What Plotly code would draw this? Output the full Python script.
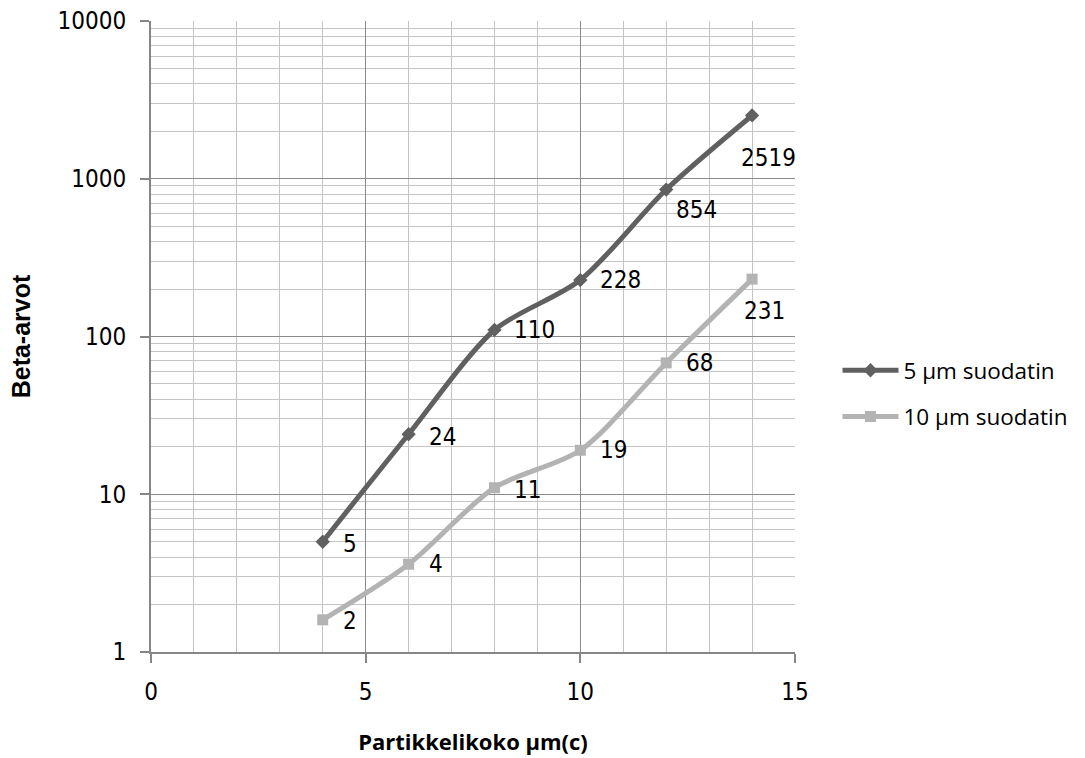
import math
import plotly.graph_objects as go

# Particle size (µm(c)) at which beta ratios were measured
particle_size = [4, 6, 8, 10, 12, 14]

# Beta ratios for the two filters
beta_5um = [5, 24, 110, 228, 854, 2519]
beta_10um = [1.6, 3.6, 11, 19, 68, 231]

series_names = ["5 µm suodatin", "10 µm suodatin"]

y_tick_vals = [1, 10, 100, 1000, 10000]
y_tick_text = ["1", "10", "100", "1000", "10000"]
x_tick_vals = [0, 5, 10, 15]

# Label offsets (px) for each point: (xshift, yshift)
offsets_5um = [(18, -2), (18, -3), (18, 0), (18, 0), (8, -20), (-13, -43)]
offsets_10um = [(18, -1), (18, 0), (18, -2), (18, 0), (18, 0), (-10, -32)]

DARK = "#606060"
LIGHT = "#b3b3b3"
LABEL_FONT = dict(family="DejaVu Sans Condensed, Roboto, sans-serif",
                  size=24, color="#000000")

fig = go.Figure()

fig.add_trace(go.Scatter(
    x=particle_size, y=beta_5um, name=series_names[0],
    mode="lines+markers", line=dict(color=DARK, width=5, shape="spline", smoothing=0.8),
    marker=dict(symbol="diamond", size=11, color=DARK),
    legendgroup="a",
))
fig.add_trace(go.Scatter(
    x=particle_size, y=beta_10um, name=series_names[1],
    mode="lines+markers", line=dict(color=LIGHT, width=5, shape="spline", smoothing=0.8),
    marker=dict(symbol="square", size=11, color=LIGHT),
    legendgroup="b",
))

# Value labels next to each point
annotations = []
for ys, offs in ((beta_5um, offsets_5um), (beta_10um, offsets_10um)):
    for x, y, (dx, dy) in zip(particle_size, ys, offs):
        annotations.append(dict(
            x=x, y=math.log10(y), xref="x", yref="y",
            text=f"{y:.0f}", showarrow=False,
            xanchor="left", yanchor="middle",
            xshift=dx, yshift=dy, font=LABEL_FONT,
        ))

fig.update_layout(
    width=1085, height=758,
    margin=dict(l=151, r=290, t=21, b=106, autoexpand=False),
    paper_bgcolor="white", plot_bgcolor="white",
    showlegend=True,
    legend=dict(
        x=1.066, y=0.48, xanchor="left", yanchor="top",
        font=dict(family="Open Sans, sans-serif", size=22.5, color="#000000"),
        tracegroupgap=14, itemwidth=56, bgcolor="rgba(0,0,0,0)",
    ),
    annotations=annotations,
)

fig.update_xaxes(
    range=[0, 15], tickvals=x_tick_vals, ticktext=[str(v) for v in x_tick_vals],
    showgrid=True, gridcolor="#8a8a8a", gridwidth=1.3,
    minor=dict(dtick=1, showgrid=True, gridcolor="#c4c4c4", gridwidth=1.3),
    showline=True, linecolor="#868686", linewidth=2,
    ticks="outside", ticklen=9, tickcolor="#868686", tickwidth=2,
    ticklabelstandoff=8,
    tickfont=LABEL_FONT, zeroline=False, automargin=False,
    title=dict(text="Partikkelikoko µm(c)", standoff=30,
               font=dict(family="Open Sans, sans-serif", size=22, color="#000000", weight="bold")),
)
fig.update_yaxes(
    type="log", range=[0, 4], tickvals=y_tick_vals, ticktext=y_tick_text,
    showgrid=True, gridcolor="#8a8a8a", gridwidth=1.3,
    minor=dict(tickvals=[m * 10 ** d for d in range(4) for m in range(2, 10)],
               showgrid=True, gridcolor="#c4c4c4", gridwidth=1.3),
    showline=True, linecolor="#868686", linewidth=2,
    ticks="outside", ticklen=9, tickcolor="#868686", tickwidth=2,
    ticklabelstandoff=9,
    tickfont=LABEL_FONT, zeroline=False, automargin=False,
    title=dict(text="Beta-arvot", standoff=20,
               font=dict(family="Liberation Sans, Arial, sans-serif", size=25, color="#000000", weight="bold")),
)

fig.write_html("out.html")
